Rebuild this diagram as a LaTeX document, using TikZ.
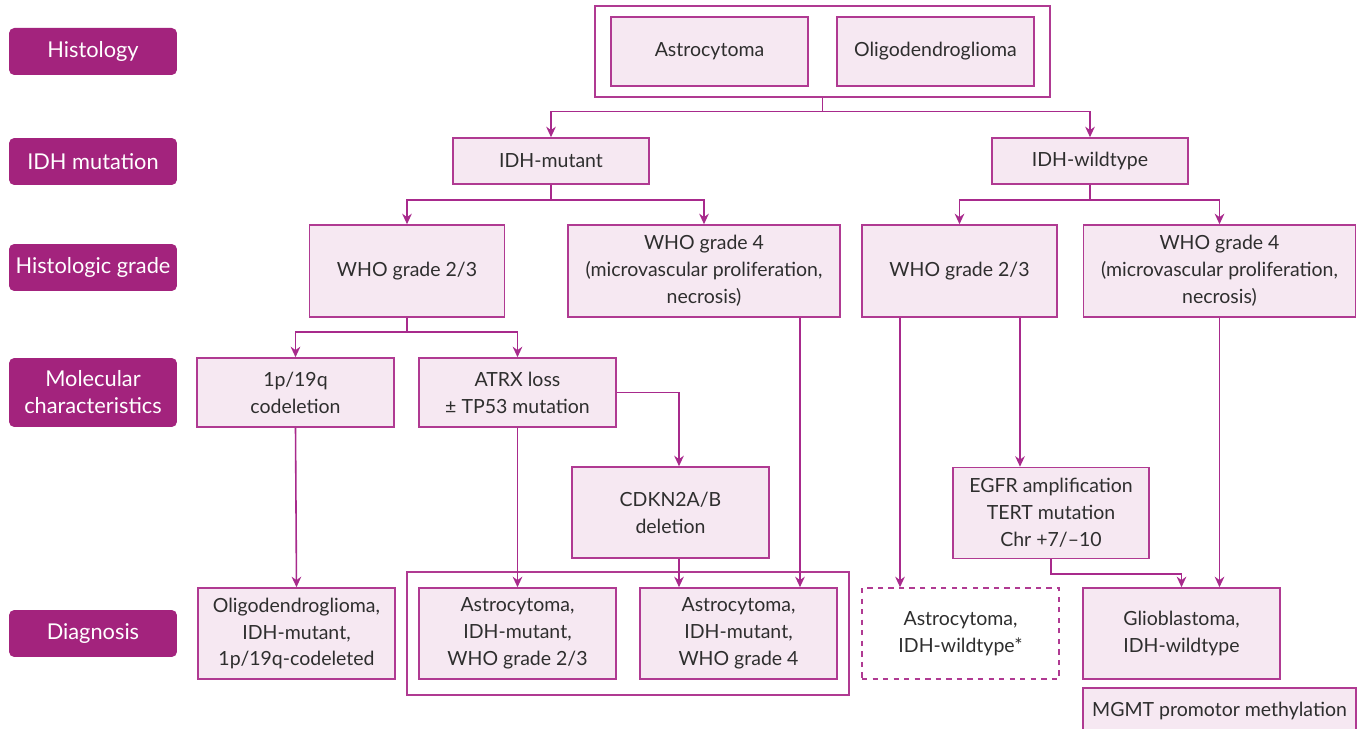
\documentclass[tikz,border=0pt]{standalone}
\usepackage{fontspec}
\setmainfont{Lato}
\usepackage{tikz}
\usetikzlibrary{arrows.meta, fit}

\definecolor{labc}{HTML}{A3237D}
\definecolor{boxc}{HTML}{B03A92}
\definecolor{boxf}{HTML}{F6E8F2}
\definecolor{linec}{HTML}{A82A8C}
\definecolor{txtc}{HTML}{2E2E2E}

\tikzset{
    lab/.style={fill=labc, text=white, rounded corners=3pt, minimum width=3.36cm,
        minimum height=0.94cm, align=center, font=\fontsize{12.4}{15.3}\selectfont},
    box/.style={draw=boxc, fill=boxf, line width=0.9pt, text=txtc, align=center,
        minimum width=3.94cm, minimum height=1.82cm},
    frame/.style={draw=boxc, line width=0.9pt},
    conn/.style={draw=linec, line width=0.9pt, -{Stealth[length=6pt,width=5.5pt]}},
    link/.style={draw=linec, line width=0.9pt}
}

\begin{document}
\begin{tikzpicture}[x=0.02cm, y=-0.02cm, font=\fontsize{11.1}{15.3}\selectfont]
        \useasboundingbox (0,0) rectangle (1362,729);

        % Row labels
        \foreach \n/\y/\t in {1/51.5/Histology, 2/161.5/IDH mutation,
                3/267.5/Histologic grade, 5/633.5/Diagnosis}
            \node[lab] (lab\n) at (93,\y) {\t};
        \node[lab, minimum height=1.38cm] (lab4) at (93,392.5) {Molecular\\characteristics};

        % Histology
        \node[box, minimum height=1.38cm] (astro) at (709.5,51.5) {Astrocytoma};
        \node[box, minimum height=1.38cm] (oligo) at (935.5,51.5) {Oligodendroglioma};
        \node[frame, fit=(astro)(oligo), inner xsep=0.3cm, inner ysep=0.2cm] (histo) {};

        % IDH
        \node[box, minimum width=3.92cm, minimum height=0.92cm] (idhm) at (551,161) {IDH-mutant};
        \node[box, minimum width=3.92cm, minimum height=0.92cm] (idhw) at (1090,161) {IDH-wildtype};

        % Grades
        \node[box, minimum width=3.9cm, minimum height=1.84cm] (grademl) at (407,271) {WHO grade 2/3};
        \node[box, minimum width=5.44cm, minimum height=1.84cm] (grademh) at (704,271)
            {WHO grade 4\\(microvascular proliferation,\\necrosis)};
        \node[box, minimum width=3.9cm, minimum height=1.84cm] (gradewl) at (959.5,271) {WHO grade 2/3};
        \node[box, minimum width=5.44cm, minimum height=1.84cm] (gradewh) at (1219.5,271)
            {WHO grade 4\\(microvascular proliferation,\\necrosis)};

        % Molecular characteristics
        \node[box, minimum height=1.38cm] (codel) at (295.5,392.5) {1p/19q\\codeletion};
        \node[box, minimum height=1.38cm] (atrx) at (517.5,392.5) {ATRX loss\\± TP53 mutation};
        \node[box] (cdkn) at (670.5,512.5) {CDKN2A/B\\deletion};
        \node[box, minimum width=3.92cm] (egfr) at (1051,513) {EGFR amplification\\TERT mutation\\Chr +7/–10};

        % Diagnosis
        \node[box] (oligod) at (296.5,633.5) {Oligodendroglioma,\\IDH-mutant,\\1p/19q-codeleted};
        \node[box] (astrol) at (517.5,633.5) {Astrocytoma,\\IDH-mutant,\\WHO grade 2/3};
        \node[box] (astroh) at (738.5,633.5) {Astrocytoma,\\IDH-mutant,\\WHO grade 4};
        \node[frame, fit=(astrol)(astroh), inner xsep=0.23cm, inner ysep=0.3cm] (astrog) {};
        \node[box, fill=white, dashed] (astrow) at (960.5,633.5) {Astrocytoma,\\IDH-wildtype*};
        \node[box] (glio) at (1181.5,633.5) {Glioblastoma,\\IDH-wildtype};
        \node[box, minimum width=5.46cm, minimum height=0.92cm, anchor=north] (mgmt) at (1219.5,687)
            {MGMT promotor methylation};

        % Connectors
        \draw[conn] (histo.south) -- ++(0,14) -| (idhm.north);
        \draw[conn] (histo.south) -- ++(0,14) -| (idhw.north);
        \draw[conn] (idhm.south) -- ++(0,15) -| (grademl.north);
        \draw[conn] (idhm.south) -- ++(0,15) -| (grademh.north);
        \draw[conn] (idhw.south) -- ++(0,15) -| (gradewl.north);
        \draw[conn] (idhw.south) -- ++(0,15) -| (gradewh.north);
        \draw[conn] (grademl.south) -- ++(0,14) -| (codel.north);
        \draw[conn] (grademl.south) -- ++(0,14) -| (atrx.north);

        \coordinate (cdin) at ([xshift=0.17cm]cdkn.north);
        \coordinate (cdout) at ([xshift=0.17cm]cdkn.south);
        \coordinate (mhout) at ([xshift=1.92cm]grademh.south);
        \coordinate (wlout) at ([xshift=-1.19cm]gradewl.south);
        \coordinate (wlegfr) at ([xshift=1.21cm]gradewl.south);

        \draw[conn] (atrx.east) -| (cdin);
        \draw[conn] (atrx.south) -- (astrol.north);
        \draw[conn] (cdout) -- (cdout |- astroh.north);
        \draw[conn] (mhout) -- (mhout |- astroh.north);
        \draw[conn] (codel.south) -- (oligod.north);
        \draw[conn] (wlout) -- (wlout |- astrow.north);
        \draw[conn] (wlegfr) -- (wlegfr |- egfr.north);
        \draw[conn] (egfr.south) -- ++(0,15) -| (glio.north);
        \draw[conn] (gradewh.south) -- (gradewh.south |- glio.north);
    \end{tikzpicture}
\end{document}
